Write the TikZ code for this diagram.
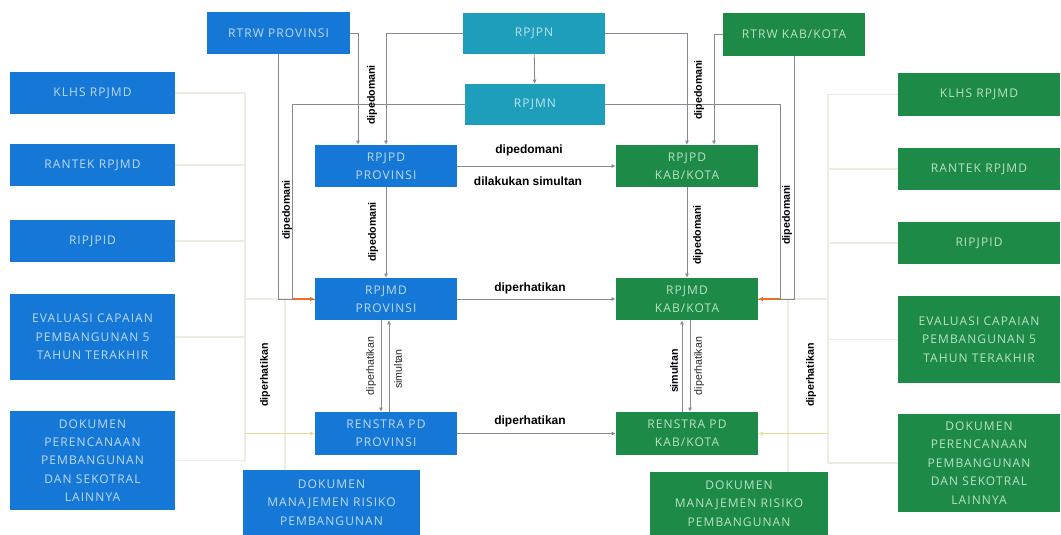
\documentclass[tikz,border=0pt]{standalone}
\usepackage{fontspec}
\setmainfont{Liberation Sans}
\newfontfamily\boxfont{Open Sans}[LetterSpace=9]
\usetikzlibrary{arrows.meta,calc}
\definecolor{bblue}{RGB}{22,120,214}
\definecolor{bgreen}{RGB}{29,138,72}
\definecolor{bteal}{RGB}{30,158,186}
\definecolor{tblue}{RGB}{190,218,244}
\definecolor{tgreen}{RGB}{186,226,196}
\definecolor{tteal}{RGB}{186,230,238}
\definecolor{conncol}{RGB}{135,138,150}
\definecolor{faintcol}{RGB}{234,237,224}
\definecolor{orcol}{RGB}{232,112,40}
\definecolor{yelcol}{RGB}{230,220,150}
\newcommand{\bx}[7]{\node[#1, minimum width={(#5-#3)*0.75pt}, minimum height={(#6-#4)*0.75pt}] (#2) at ({(#3+#5)/2},{(#4+#6)/2}) {#7};}
\tikzset{
  box/.style={inner sep=0pt, align=center, font=\boxfont\fontsize{9}{13.8}\selectfont},
  bluebox/.style={box, fill=bblue, text=tblue},
  greenbox/.style={box, fill=bgreen, text=tgreen},
  tealbox/.style={box, fill=bteal, text=tteal},
  conn/.style={draw=conncol, line width=0.6pt},
  arr/.style={conn, -{Latex[length=3pt,width=3pt]}},
  faint/.style={draw=faintcol, line width=0.8pt},
  orarr/.style={draw=orcol, line width=0.8pt, -{Latex[length=3.5pt,width=3.5pt]}},
  yelarr/.style={draw=yelcol, line width=0.8pt, -{Latex[length=3.5pt,width=3.5pt]}},
  lbl/.style={inner sep=1pt, font=\bfseries\fontsize{9}{10}\selectfont, text=black},
  vlbl/.style={inner sep=1pt, rotate=90, font=\bfseries\fontsize{8}{9}\selectfont, text=black},
  vlblr/.style={inner sep=1pt, rotate=90, font=\fontsize{8}{9}\selectfont, text=black!85},
}
\begin{document}
\begin{tikzpicture}[x=0.75pt,y=-0.75pt]
\useasboundingbox (0,0) rectangle (1061,535);
% left column
\bx{bluebox}{klhsl}{10}{72}{175}{114}{KLHS RPJMD}
\bx{bluebox}{rantl}{10}{144}{175}{186}{RANTEK RPJMD}
\bx{bluebox}{ripl}{10}{220}{175}{262}{RIPJPID}
\bx{bluebox}{evl}{10}{294}{175}{380}{EVALUASI CAPAIAN\\PEMBANGUNAN 5\\TAHUN TERAKHIR}
\bx{bluebox}{dokl}{10}{411}{175}{510}{DOKUMEN\\PERENCANAAN\\PEMBANGUNAN\\DAN SEKOTRAL\\LAINNYA}
% right column
\bx{greenbox}{klhsr}{898}{73}{1060}{116}{KLHS RPJMD}
\bx{greenbox}{rantr}{898}{148}{1060}{190}{RANTEK RPJMD}
\bx{greenbox}{ripr}{898}{222}{1060}{264}{RIPJPID}
\bx{greenbox}{evr}{898}{296}{1060}{383}{EVALUASI CAPAIAN\\PEMBANGUNAN 5\\TAHUN TERAKHIR}
\bx{greenbox}{dokr}{898}{414}{1060}{512}{DOKUMEN\\PERENCANAAN\\PEMBANGUNAN\\DAN SEKOTRAL\\LAINNYA}
% top
\bx{bluebox}{rtrwp}{207}{12}{350}{54}{RTRW PROVINSI}
\bx{tealbox}{rpjpn}{463}{13}{605}{54}{RPJPN}
\bx{tealbox}{rpjmn}{465}{84}{605}{125}{RPJMN}
\bx{greenbox}{rtrwk}{723}{13}{865}{56}{RTRW KAB/KOTA}
% middle
\bx{bluebox}{rpjpdp}{315}{145}{457}{187}{RPJPD\\PROVINSI}
\bx{greenbox}{rpjpdk}{616}{145}{758}{187}{RPJPD\\KAB/KOTA}
\bx{bluebox}{rpjmdp}{315}{278}{457}{320}{RPJMD\\PROVINSI}
\bx{greenbox}{rpjmdk}{616}{278}{758}{320}{RPJMD\\KAB/KOTA}
\bx{bluebox}{renp}{315}{412}{457}{455}{RENSTRA PD\\PROVINSI}
\bx{greenbox}{renk}{616}{412}{758}{455}{RENSTRA PD\\KAB/KOTA}
\bx{bluebox}{dmrp}{243}{470}{420}{535}{DOKUMEN\\MANAJEMEN RISIKO\\PEMBANGUNAN}
\bx{greenbox}{dmrk}{650}{472}{828}{535}{DOKUMEN\\MANAJEMEN RISIKO\\PEMBANGUNAN}
% faint buses, left
\coordinate (bltop) at (245,93);
\coordinate (blbot) at (245,460.5);
\coordinate (blm) at (245,299);
\coordinate (blr) at (245,433.5);
\foreach \n in {klhsl,rantl,ripl,evl,dokl} \draw[faint] (\n.east) -- (\n.east -| bltop);
\draw[faint] (bltop) -- (blbot);
\draw[faint] (dmrp.north -| 285,0) -- (285,299);
\draw[faint] (blm) -- (rpjmdp.west);
\draw[yelarr] (blr) -- (renp.west);
% faint buses, right
\coordinate (brtop) at (828,94.5);
\coordinate (brbot) at (828,463);
\coordinate (brm) at (828,299);
\coordinate (brr) at (828,433.5);
\foreach \n in {klhsr,rantr,ripr,evr,dokr} \draw[faint] (\n.west) -- (\n.west -| brtop);
\draw[faint] (brtop) -- (brbot);
\draw[faint] (dmrk.north -| 788,0) -- (788,299);
\draw[faint] (brm) -- (rpjmdk.east);
\draw[yelarr] (brr) -- (renk.east);
% grey connectors
\draw[conn] (rtrwp.south) |- (rpjmdp.west);
\draw[conn] (rpjmn.west) -| ($(rpjmdp.west)+(-22,0)$) -- (rpjmdp.west);
\draw[conn] (rtrwk.south) |- (rpjmdk.east);
\draw[conn] (rpjmn.east) -| ($(rpjmdk.east)+(22,0)$) -- (rpjmdk.east);
\draw[orarr] ($(rpjmdp.west)+(-22,0)$) -- (rpjmdp.west);
\draw[orarr] ($(rpjmdk.east)+(22,0)$) -- (rpjmdk.east);
\draw[arr] (rtrwp.east) -| (rpjpdp.north -| 358,0);
\draw[arr] (rpjpn.west) -| (rpjpdp.north);
\draw[arr] (rpjpn.east) -| (rpjpdk.north);
\draw[arr] (rtrwk.west) -| (rpjpdk.north -| 714,0);
\draw[arr] (rpjpn) -- (rpjmn);
\draw[arr] (rpjpdp) -- (rpjpdk);
\draw[arr] (rpjpdp) -- (rpjmdp);
\draw[arr] (rpjpdk) -- (rpjmdk);
\draw[arr] (rpjmdp) -- (rpjmdk);
\draw[arr] (renp) -- (renk);
\draw[arr] (rpjmdp.south -| 381,0) -- (renp.north -| 381,0);
\draw[arr] (renp.north -| 389,0) -- (rpjmdp.south -| 389,0);
\draw[arr] (renk.north -| 682,0) -- (rpjmdk.south -| 682,0);
\draw[arr] (rpjmdk.south -| 690,0) -- (renk.north -| 690,0);
% labels
\node[vlbl] (t1) at (287,210) {dipedomani};
\node[vlbl] (t2) at (372,95) {dipedomani};
\node[vlbl] (t3) at (699,90) {dipedomani};
\node[vlbl] (t4) at (787,215) {dipedomani};
\node[lbl] (t5) at (529,150) {dipedomani};
\node[lbl] (t6) at (528,181) {dilakukan simultan};
\node[vlbl] (t7) at (373,232) {dipedomani};
\node[vlbl] (t8) at (698,235) {dipedomani};
\node[lbl] (t9) at (530,288) {diperhatikan};
\node[vlblr] (t10) at (371,366) {diperhatikan};
\node[vlblr] (t11) at (398,369) {simultan};
\node[vlbl] (t12) at (674,371) {simultan};
\node[vlblr] (t13) at (699,366) {diperhatikan};
\node[lbl] (t14) at (530,421) {diperhatikan};
\node[vlbl] (t15) at (265,375) {diperhatikan};
\node[vlbl] (t16) at (811,375) {diperhatikan};
\end{tikzpicture}
\end{document}
